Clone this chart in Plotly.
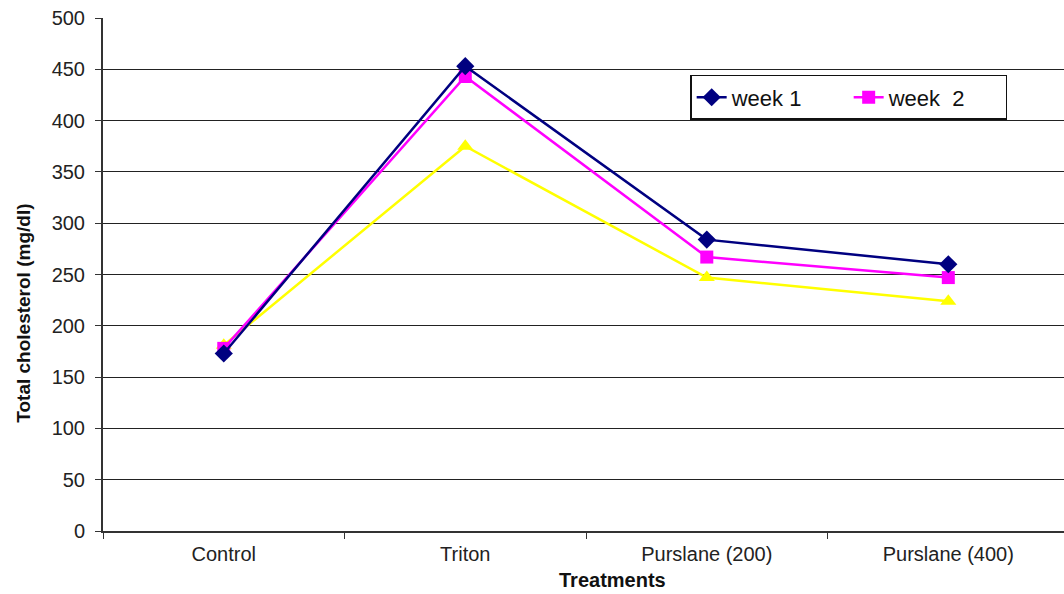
import plotly.graph_objects as go

treatments = ["Control", "Triton", "Purslane (200)", "Purslane (400)"]
week1 = [173, 453, 284, 260]
week2 = [178, 443, 267, 247]
week3 = [181, 375, 247, 224]
y_ticks = [0, 50, 100, 150, 200, 250, 300, 350, 400, 450, 500]

FONT = "Liberation Sans, Arial, sans-serif"
TEXT = "#222222"

fig = go.Figure()
fig.add_trace(go.Scatter(
    x=treatments, y=week3, name="week 3", mode="lines+markers",
    line=dict(color="#FFFF00", width=2.5),
    marker=dict(symbol="triangle-up", size=14, color="#FFFF00"),
    showlegend=False,
))
fig.add_trace(go.Scatter(
    x=treatments, y=week2, name="week  2", mode="lines+markers",
    line=dict(color="#FF00FF", width=2.5),
    marker=dict(symbol="square", size=13, color="#FF00FF"),
))
fig.add_trace(go.Scatter(
    x=treatments, y=week1, name="week 1", mode="lines+markers",
    line=dict(color="#000080", width=2.5),
    marker=dict(symbol="diamond", size=14, color="#000080"),
))

fig.update_layout(
    width=1064, height=594,
    margin=dict(l=103, r=0, t=18, b=63, autoexpand=False),
    paper_bgcolor="white", plot_bgcolor="white",
    font=dict(family=FONT, color=TEXT, size=20),
    legend=dict(
        x=0.611, y=0.889, xanchor="left", yanchor="top",
        orientation="h", traceorder="reversed",
        entrywidth=112, entrywidthmode="pixels",
        bordercolor="#111111", borderwidth=1.5, bgcolor="white",
        font=dict(family=FONT, size=22, color="#111111"),
    ),
    xaxis=dict(
        type="category", range=[-0.5, 3.479],
        showline=True, linecolor="#333333", linewidth=2,
        ticks="outside", tickson="boundaries", ticklen=6, tickcolor="#333333",
        showgrid=False,
        tickfont=dict(family=FONT, size=20, color=TEXT),
        ticklabelstandoff=4,
    ),
    yaxis=dict(
        range=[0, 500], tickvals=y_ticks,
        showline=True, linecolor="#333333", linewidth=2,
        ticks="outside", ticklen=6, tickcolor="#333333",
        showgrid=True, gridcolor="#222222", gridwidth=1.3,
        zeroline=False,
        tickfont=dict(family=FONT, size=20, color=TEXT),
        ticklabelstandoff=6,
    ),
    annotations=[
        dict(text="<b>Total cholesterol (mg/dl)</b>", textangle=-90,
             xref="paper", yref="paper", x=-0.083, y=0.424,
             xanchor="center", yanchor="middle", showarrow=False,
             font=dict(family=FONT, size=19, color="#111111")),
        dict(text="<b>Treatments</b>",
             xref="paper", yref="paper", x=0.53, y=-0.095,
             xanchor="center", yanchor="middle", showarrow=False,
             font=dict(family=FONT, size=20, color="#111111")),
    ],
)

fig.write_html("out.html")
